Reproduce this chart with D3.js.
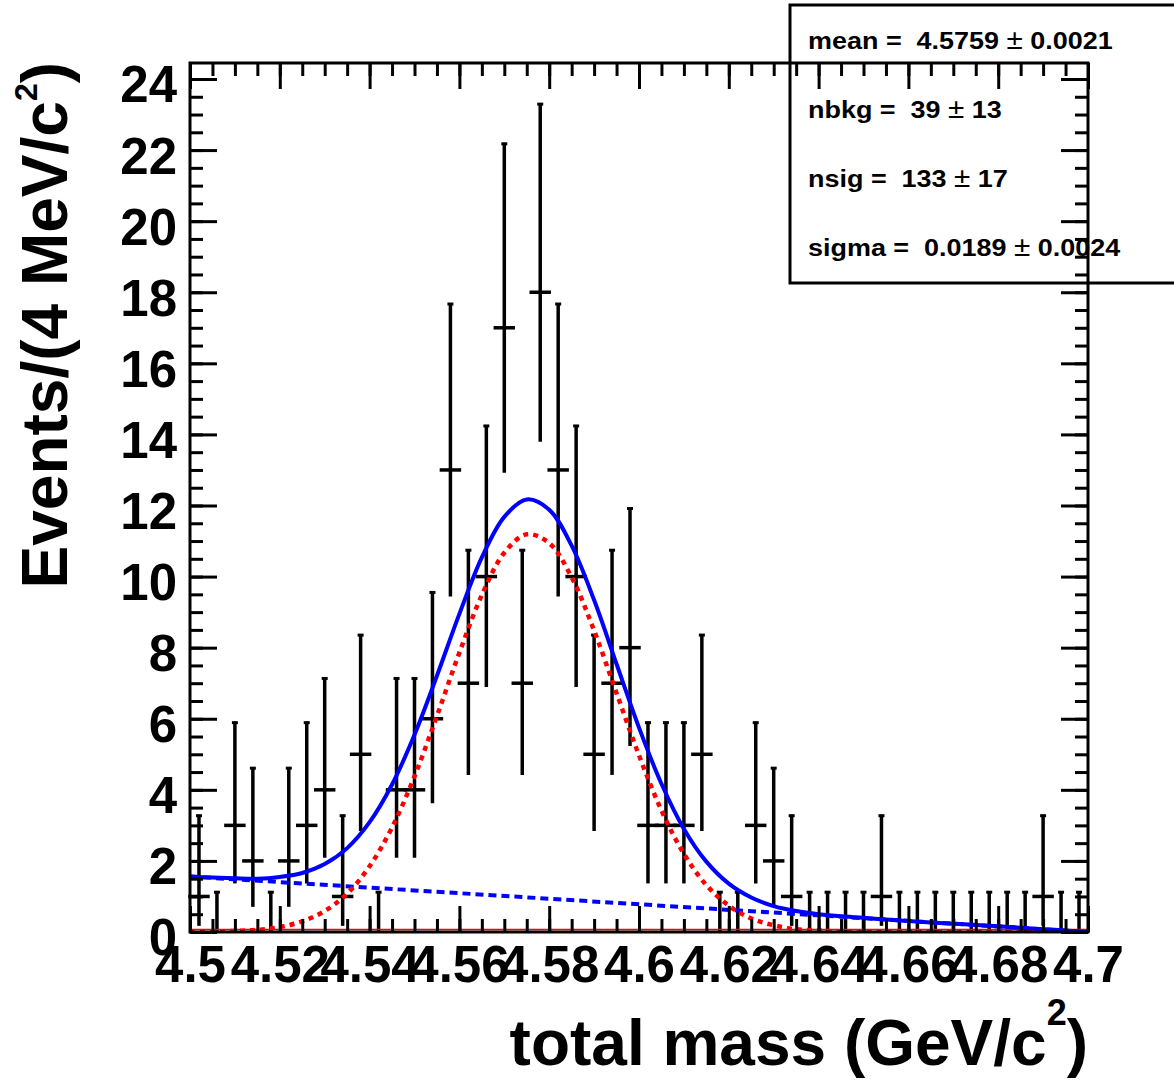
<!DOCTYPE html>
<html>
<head>
<meta charset="utf-8">
<script src="https://cdn.jsdelivr.net/npm/d3@7/dist/d3.min.js"></script>
<style>
  html, body { margin: 0; padding: 0; background: #fff; }
  svg { display: block; font-family: 'Liberation Sans', Arial, Helvetica, sans-serif; }
  .tick text { font-weight: bold; }
</style>
</head>
<body>
<svg id="chart" width="1174" height="1081"></svg>
<script>
'use strict';

// binning of the histogram (4 MeV bins between 4.5 and 4.7 GeV)
var massRange = [4.5, 4.7];
var binWidth = 0.004;

// events per bin
var counts = [1, 0, 3, 2, 0, 2, 3, 4, 1, 5,
              0, 4, 4, 6, 13, 7, 10, 17, 7, 18,
              13, 10, 5, 7, 8, 3, 3, 3, 5, 0,
              0, 3, 2, 1, 0, 0, 0, 0, 1, 0,
              0, 0, 0, 0, 0, 0, 0, 1, 0, 0];

// asymmetric poisson error bars, indexed by the bin content
var errLow  = [0, 0.827, 1.292, 1.633, 1.914, 2.159, 2.379, 2.580, 2.768, 2.943,
               3.108, 3.265, 3.414, 3.558, 3.695, 3.828, 3.957, 4.082, 4.204];
var errHigh = [1.148, 2.300, 2.638, 2.918, 3.162, 3.382, 3.583, 3.770, 3.944, 4.110,
               4.266, 4.416, 4.559, 4.697, 4.830, 4.958, 5.083, 5.204, 5.321];

// fitted curves sampled along the mass axis
var curveX = [4.500, 4.505, 4.510, 4.515, 4.520, 4.525, 4.530, 4.535, 4.540, 4.545,
              4.550, 4.555, 4.560, 4.565, 4.570, 4.575, 4.580, 4.585, 4.590, 4.595,
              4.600, 4.605, 4.610, 4.615, 4.620, 4.625, 4.630, 4.635, 4.640, 4.645,
              4.650, 4.655, 4.660, 4.665, 4.670, 4.675, 4.680, 4.685, 4.690, 4.695, 4.700];
var sigCurve = [0.00, 0.01, 0.03, 0.06, 0.14, 0.30, 0.59, 1.08, 1.85, 2.94,
                4.38, 6.08, 7.86, 9.48, 10.67, 11.19, 10.94, 9.98, 8.48, 6.72,
                4.97, 3.42, 2.20, 1.32, 0.74, 0.38, 0.19, 0.08, 0.04, 0.01,
                0.01, 0, 0, 0, 0, 0, 0, 0, 0, 0, 0];
var totCurve = [1.56, 1.53, 1.51, 1.50, 1.55, 1.66, 1.91, 2.36, 3.09, 4.15,
                5.55, 7.21, 8.95, 10.54, 11.68, 12.17, 11.88, 10.87, 9.34, 7.54,
                5.75, 4.17, 2.90, 1.98, 1.36, 0.97, 0.73, 0.59, 0.50, 0.44,
                0.40, 0.35, 0.31, 0.27, 0.23, 0.20, 0.16, 0.12, 0.08, 0.04, 0.00];
var bkgX = [4.5, 4.7];
var bkgCurve = [1.56, 0.00];

// axis ticks
var xMajor = [4.5, 4.52, 4.54, 4.56, 4.58, 4.6, 4.62, 4.64, 4.66, 4.68, 4.7];
var xLabels = ['4.5', '4.52', '4.54', '4.56', '4.58', '4.6', '4.62', '4.64', '4.66', '4.68', '4.7'];
var yMajor = [0, 2, 4, 6, 8, 10, 12, 14, 16, 18, 20, 22, 24];
var yMax = 24.45;

// fit results box
var fitNames  = ['mean', 'nbkg', 'nsig', 'sigma'];
var fitValues = ['4.5759', '39', '133', '0.0189'];
var fitErrors = ['0.0021', '13', '17', '0.0024'];

var frame = { left: 190, top: 63, right: 1088, bottom: 932 };

var svg = d3.select('#chart');

var x = d3.scaleLinear().domain(massRange).range([frame.left, frame.right]);
var y = d3.scaleLinear().domain([0, yMax]).range([frame.bottom, frame.top]);

svg.append('defs').append('clipPath')
  .attr('id', 'plotclip')
  .append('rect')
  .attr('x', frame.left)
  .attr('y', frame.top)
  .attr('width', frame.right - frame.left)
  .attr('height', frame.bottom - frame.top);

var bins = counts.map(function (n, i) {
  var lo = massRange[0] + i * binWidth;
  return { lo: lo, hi: lo + binWidth, mid: lo + binWidth / 2, n: n };
});

// data points
var gData = svg.append('g').attr('class', 'data')
  .attr('stroke', '#000').attr('stroke-width', 3.5).attr('fill', 'none');

gData.selectAll('line.xerr')
  .data(bins.filter(function (d) { return d.n > 0; }))
  .enter().append('line')
  .attr('class', 'xerr')
  .attr('stroke-linecap', 'square')
  .attr('x1', function (d) { return x(d.lo); })
  .attr('x2', function (d) { return x(d.hi); })
  .attr('y1', function (d) { return y(d.n); })
  .attr('y2', function (d) { return y(d.n); });

gData.selectAll('line.yerr')
  .data(bins)
  .enter().append('line')
  .attr('class', 'yerr')
  .attr('x1', function (d) { return x(d.mid); })
  .attr('x2', function (d) { return x(d.mid); })
  .attr('y1', function (d) { return y(d.n - errLow[d.n]); })
  .attr('y2', function (d) { return y(d.n + errHigh[d.n]); });

// small caps at the ends of the error bars
gData.selectAll('line.cap')
  .data(bins)
  .enter().append('line')
  .attr('class', 'cap')
  .attr('stroke-width', 3)
  .attr('x1', function (d) { return x(d.mid) - 3; })
  .attr('x2', function (d) { return x(d.mid) + 3; })
  .attr('y1', function (d) { return y(d.n + errHigh[d.n]) + 1; })
  .attr('y2', function (d) { return y(d.n + errHigh[d.n]) + 1; });

// fit curves
var gCurves = svg.append('g').attr('clip-path', 'url(#plotclip)').attr('fill', 'none');

var line = d3.line()
  .x(function (d) { return x(d[0]); })
  .y(function (d) { return y(d[1]); })
  .curve(d3.curveCatmullRom.alpha(0.5));

gCurves.append('path')
  .datum(massRange.map(function (m) { return [m, 0]; }))
  .attr('d', line)
  .attr('transform', 'translate(0,-2.5)')
  .attr('stroke', '#ff0000')
  .attr('stroke-width', 1.5);

gCurves.append('path')
  .datum(bkgX.map(function (m, i) { return [m, bkgCurve[i]]; }))
  .attr('d', line)
  .attr('stroke', '#0000ff')
  .attr('stroke-width', 4)
  .attr('stroke-dasharray', '8,5');

gCurves.append('path')
  .datum(curveX.map(function (m, i) { return [m, sigCurve[i]]; }))
  .attr('d', line)
  .attr('stroke', '#ff0000')
  .attr('stroke-width', 4.5)
  .attr('stroke-dasharray', '5,5');

gCurves.append('path')
  .datum(curveX.map(function (m, i) { return [m, totCurve[i]]; }))
  .attr('d', line)
  .attr('stroke', '#0000ff')
  .attr('stroke-width', 4);

// axes, ticks on all four sides pointing inwards
var xMinor = d3.range(0, 41).map(function (k) { return massRange[0] + k * 0.005; });
var yMinor = d3.range(0, 49).map(function (k) { return k * 0.5; });

function styleAxis(g) {
  g.select('.domain').remove();
  g.selectAll('.tick line').attr('stroke', '#000').attr('stroke-width', 3);
}

svg.append('g')
  .attr('transform', 'translate(0,' + frame.bottom + ')')
  .call(d3.axisBottom(x).tickValues(xMinor).tickSize(-13).tickFormat(''))
  .call(styleAxis);

svg.append('g')
  .attr('transform', 'translate(0,' + frame.bottom + ')')
  .call(d3.axisBottom(x).tickValues(xMajor).tickSize(-26).tickPadding(14)
    .tickFormat(function (d, i) { return xLabels[i]; }))
  .call(styleAxis)
  .call(function (g) {
    g.selectAll('.tick text').attr('fill', '#000').attr('font-size', 51);
  });

svg.append('g')
  .attr('transform', 'translate(0,' + frame.top + ')')
  .call(d3.axisTop(x).tickValues(xMinor).tickSize(-13).tickFormat(''))
  .call(styleAxis);

svg.append('g')
  .attr('transform', 'translate(0,' + frame.top + ')')
  .call(d3.axisTop(x).tickValues(xMajor).tickSize(-26).tickFormat(''))
  .call(styleAxis);

svg.append('g')
  .attr('transform', 'translate(' + frame.left + ',0)')
  .call(d3.axisLeft(y).tickValues(yMinor).tickSize(-13).tickFormat(''))
  .call(styleAxis);

svg.append('g')
  .attr('transform', 'translate(' + frame.left + ',0)')
  .call(d3.axisLeft(y).tickValues(yMajor).tickSize(-27).tickPadding(13).tickFormat(d3.format('d')))
  .call(styleAxis)
  .call(function (g) {
    g.selectAll('.tick text').attr('fill', '#000').attr('font-size', 51).attr('dy', '0.45em');
  });

svg.append('g')
  .attr('transform', 'translate(' + frame.right + ',0)')
  .call(d3.axisRight(y).tickValues(yMinor).tickSize(-13).tickFormat(''))
  .call(styleAxis);

svg.append('g')
  .attr('transform', 'translate(' + frame.right + ',0)')
  .call(d3.axisRight(y).tickValues(yMajor).tickSize(-27).tickFormat(''))
  .call(styleAxis);

svg.append('rect')
  .attr('x', frame.left)
  .attr('y', frame.top)
  .attr('width', frame.right - frame.left)
  .attr('height', frame.bottom - frame.top)
  .attr('fill', 'none')
  .attr('stroke', '#000')
  .attr('stroke-width', 3);

// axis titles
var xTitle = svg.append('text')
  .attr('x', frame.right)
  .attr('y', 1065)
  .attr('text-anchor', 'end')
  .attr('font-size', 64)
  .attr('font-weight', 'bold');
xTitle.append('tspan').text('total mass (GeV/c');
xTitle.append('tspan').attr('font-size', 36).attr('dy', -40).text('2');
xTitle.append('tspan').attr('dy', 40).text(')');

var yTitle = svg.append('text')
  .attr('transform', 'translate(67,62) rotate(-90)')
  .attr('text-anchor', 'end')
  .attr('font-size', 64)
  .attr('font-weight', 'bold');
yTitle.append('tspan').text('Events/(4 MeV/c');
yTitle.append('tspan').attr('font-size', 32).attr('dy', -30).text('2');
yTitle.append('tspan').attr('dy', 30).text(')');

// fit parameter box
svg.append('rect')
  .attr('x', 790)
  .attr('y', 5)
  .attr('width', 420)
  .attr('height', 278)
  .attr('fill', 'none')
  .attr('stroke', '#000')
  .attr('stroke-width', 3);

var boxLines = svg.append('g')
  .selectAll('text')
  .data(fitNames)
  .enter().append('text')
  .attr('transform', function (d, i) { return 'translate(808,' + (49 + i * 69) + ') scale(1.1,1)'; })
  .attr('font-size', 24.5)
  .attr('font-weight', 'bold')
  .style('white-space', 'pre');

boxLines.append('tspan').text(function (d, i) { return d + ' =  ' + fitValues[i] + ' '; });
boxLines.append('tspan').attr('font-weight', 'normal').attr('font-size', 27).text('\u00b1');
boxLines.append('tspan').text(function (d, i) { return ' ' + fitErrors[i]; });
</script>
</body>
</html>
